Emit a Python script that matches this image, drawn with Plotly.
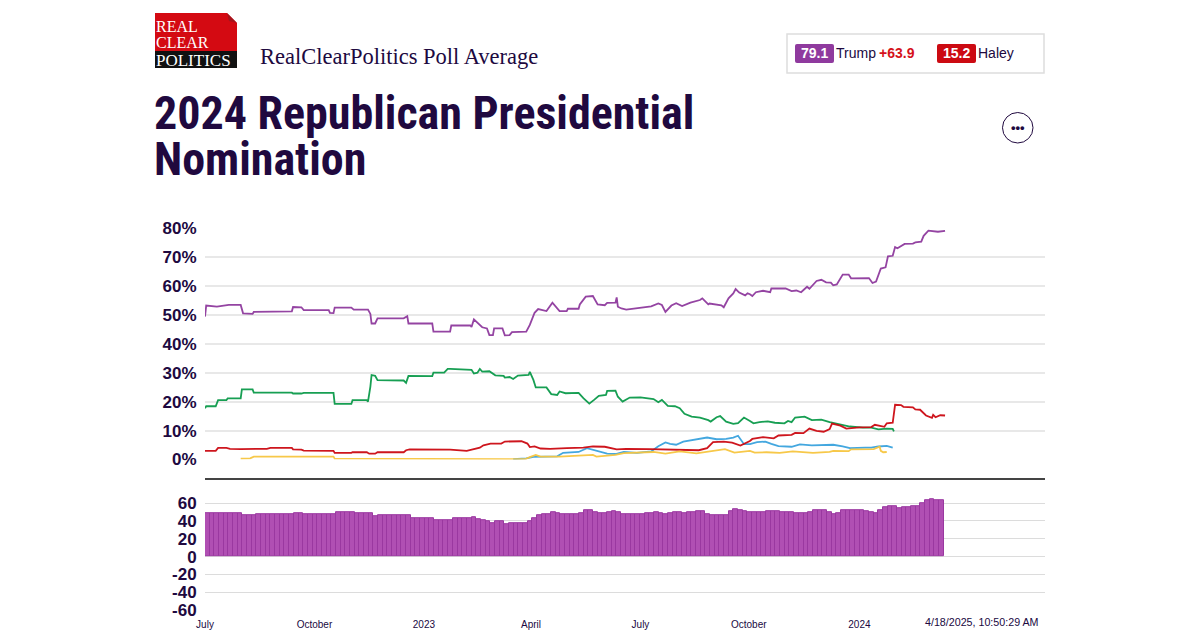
import pandas as pd
import plotly.graph_objects as go
from plotly.subplots import make_subplots

START = pd.Timestamp("2022-07-01")
INK = "#20093f"

# days since START, percent
trump_days = [0, 1, 10, 20, 30, 32, 40, 41, 73, 74, 81, 83, 104, 105, 108, 109, 123, 125, 137, 139, 140, 143, 145, 167, 170, 171, 191, 192,
              206, 207, 223, 224, 226, 230, 233, 237, 239, 242, 243, 250, 252, 256, 258, 270, 273, 277, 280, 287, 292, 298, 304, 305, 314, 315, 320, 326, 330, 336, 338, 345, 346, 347, 350, 354, 370, 375, 381, 384, 387, 392, 396, 401, 408, 416, 418, 423, 424, 434, 436, 440, 444, 446, 449, 454, 456,
              458, 460, 463, 469, 475, 476, 488, 493, 497, 501, 506, 508, 514, 518, 522, 526, 528, 531, 536, 541, 543, 558, 561, 564, 568, 572, 574, 578, 580, 582, 587, 588, 595, 597, 602, 604, 608, 613, 616, 622]
trump_vals = [49.4, 53.2, 52.8, 53.4, 53.4, 50.5, 50.3, 51, 51.2, 52.7, 52.6, 51.6, 51.6, 50.7, 50.6, 52.5, 52.5, 51.8, 51.8, 50.3, 47, 47, 48.8, 48.8, 49.5, 47, 47, 44.2,
              44.2, 46.3, 46.3, 45.8, 48.4, 46.7, 45.7, 45.3, 43, 43, 45.3, 45.3, 42.9, 43, 44, 44.2, 46.5, 50.7, 52, 51.3, 54.2, 51.3, 51.3, 52.1, 52.1, 53.6, 56.3, 56.5, 53.6, 53.3, 54.1, 54.2, 56, 52.8, 52.2, 51.8, 52.8, 52.9, 53.9, 53.4, 51, 53.2, 54, 53, 54.2, 55.1, 55.7, 53.6, 53.9, 53.3, 52.6, 55.7, 57.4, 58.9, 57.7, 56.7, 57.4,
              57.1, 56.5, 57.8, 58.3, 57.8, 59.1, 59.1, 58.2, 58.4, 57.8, 59.7, 59, 61.7, 62.1, 61.2, 61.1, 60.2, 60.5, 63.9, 63.9, 62.6, 62.7, 61, 61.5, 66, 66.4, 70.2, 70.4, 73.4, 73, 74.1, 74.5, 74.6, 75, 75.3, 77.3, 79.1, 78.8, 78.7, 79]

desantis_days = [0, 1, 9, 11, 18, 19, 30, 31, 40, 41, 73, 74, 81, 83, 108, 109, 123, 124, 136, 137, 139, 140, 143, 145, 167, 169, 171, 191, 192, 201, 204,
                 206, 224, 226, 229, 231, 233, 239, 244, 251, 252, 256, 259, 263, 272, 273, 276, 278, 287, 291, 296, 298, 303, 314, 318, 323, 327, 331, 337, 338, 345, 347, 351, 357, 366, 377, 381, 384, 389, 395, 399, 403, 409, 416, 423, 425, 430, 433, 438, 444, 448, 453,
                 458, 461, 466, 473, 479, 487, 490, 493, 496, 504, 510, 518, 525, 536, 542, 553, 560, 566, 573, 578, 579]
desantis_vals = [17.7, 18.4, 18.4, 20.5, 20.5, 21.1, 21.1, 24.2, 24.2, 23.1, 23.1, 22.8, 22.8, 23, 23, 19.2, 19.2, 20.5, 20.5, 20, 25.2, 29.2, 28.9, 27.4, 27.3, 26.5, 28.9, 28.8, 30, 30, 31.3,
                 31.3, 31, 29.7, 30, 31.3, 30.4, 30.5, 29.1, 28.9, 28.3, 28.5, 27.8, 29, 29.2, 30.3, 27.5, 24.9, 24.9, 22.6, 22.3, 23.5, 22.9, 23, 21.2, 19.3, 20.6, 22, 22.3, 23.7, 23.8, 21.7, 20, 21.4, 21.5, 20.9, 19.8, 20.6, 18.5, 18.4, 17.7, 15.8, 14.8, 14.5, 13.6, 13.1, 14.6, 15, 13.1, 12.3, 12.6, 14.5,
                 13.3, 12.5, 12.9, 13.2, 12.7, 12.5, 13.3, 12.9, 14.5, 14.8, 13.6, 13.8, 12.9, 12, 11.4, 11, 11, 10.4, 10.7, 10.6, 9.7]

haley_days = [0, 9, 11, 18, 21, 30, 52, 55, 73, 74, 81, 83, 108, 109, 123, 124, 136, 138, 143, 145, 167, 169, 172,
              206, 220, 226, 231, 234, 240, 249, 252, 266, 271, 273, 277, 282, 290, 304, 318, 326, 336, 346, 354, 374, 388, 415, 422, 427, 436, 443, 450,
              458, 460, 465, 469, 478, 482, 493, 496, 503, 508, 514, 520, 525, 527, 534, 539, 550, 560, 563, 571, 573, 578, 580, 585, 587, 595, 597, 601, 606, 611, 612, 614, 618, 622]
haley_vals = [3, 3, 4, 4, 3.7, 3.6, 3.7, 4, 4, 3.5, 3.4, 3.1, 3, 2.3, 2.3, 2.5, 2.5, 2, 2, 2.5, 2.5, 3.2, 3.5,
              3.4, 3, 3.5, 4.1, 4.9, 5.5, 5.5, 6.2, 6.3, 5.5, 4.3, 4.5, 3.8, 3.7, 3.9, 4.1, 4.5, 4.4, 3.5, 3.7, 3.6, 3.5, 3.2, 3.9, 6, 6.2, 5.8, 4.8,
              6.4, 7.1, 7.3, 7.7, 7.3, 8.3, 8.5, 9.2, 9.1, 10.7, 9.9, 9.6, 10.5, 12.4, 11.7, 10.7, 11.1, 11.2, 12, 11.3, 12.5, 12.7, 18.9, 18.8, 18.2, 18, 17.3, 17.2, 15.2, 14.4, 15.4, 14.6, 15.3, 15.2]

ramaswamy_days = [259, 270, 276, 296, 301, 314, 321, 329, 338, 345, 352, 363, 375, 381, 387, 391, 396, 402, 410, 422, 430, 438, 444, 448, 453,
                  458, 464, 471, 476, 482, 493, 500, 510, 522, 528, 536, 542, 555, 560, 566, 573, 578]
ramaswamy_vals = [0.1, 0.4, 0.9, 1.1, 2.3, 2.6, 3.9, 3, 2, 1.9, 2.6, 2.3, 2.8, 4.6, 5.9, 5.4, 5.1, 6.2, 6.7, 7.6, 7, 7.1, 7.6, 8.2, 5.3,
                  5.3, 6, 6.2, 5.4, 4.6, 4.4, 5.2, 4.9, 4.9, 5.1, 4.5, 3.9, 4.1, 4.1, 4.5, 4.7, 4.1]

pence_days = [30, 38, 41, 108, 109, 206, 256, 269, 273, 278, 282, 298, 318, 326, 329, 338, 345, 352, 363, 377, 387, 399, 413, 427, 437, 445, 452,
              458, 462, 472, 483, 494, 511, 525, 528, 541, 543, 562, 567, 568, 570, 573]
pence_vals = [0.3, 0.4, 1, 1, 0.3, 0.3, 0.2, 0.1, 0.8, 1.6, 1, 1, 1.4, 1.6, 1, 1.4, 1.6, 2.2, 2.4, 2.6, 2, 2.8, 2.1, 3, 3.6, 2.4, 2.8,
              3, 2.4, 2.5, 2.3, 2.8, 2.3, 2.6, 3, 2.9, 3.5, 3.6, 4.4, 3, 2.5, 2.6]

# Trump lead over the field, one bar every few days
spread_step = 3.93
spread_vals = [49, 49, 49, 48.5, 48.5, 49, 49, 49, 46, 46, 46, 47, 47, 47, 47, 47, 47, 47, 47, 49, 49,
               47.6, 47.6, 47.6, 47.6, 47.6, 47.6, 47.6, 50, 50, 50, 50, 49, 49, 49, 49, 45, 46, 46, 46, 46, 46, 46, 46,
               43, 43, 43, 43, 43, 40.5, 40.5, 40.5, 40.5, 42.7, 42.7, 42.7, 42.7, 44, 42, 40.5, 40, 37.5, 39.4, 39.4, 36.4,
               37, 37, 37, 38, 40, 43, 46.5, 47, 47, 50, 49, 47, 47.5, 47.5, 47.5, 49, 52, 52, 50, 49,
               49, 50, 50.5, 50, 48, 47.6, 47.6, 47.6, 47.8, 48.5, 49, 49.8, 49, 47, 48.5, 49.8, 49.5, 49.2, 50, 50.3, 50.5, 50.5,
               48, 46.8, 46.3, 46, 46.8, 50.8, 52.8, 51.5, 51, 49.5, 50, 50, 50, 50.7, 51.4, 50.5, 50.3, 50, 49.5, 49, 49, 49, 49.5,
               51.5, 52, 52, 49.5, 47.5, 49, 51.5, 52, 51.5, 51.5, 51.5, 51.4, 50, 49, 52.5, 55, 57, 56, 54.3, 55.5, 55.8, 56, 57, 59.5,
               63.5, 64, 63.5, 63.3]

tick_dates = ["2022-07-01", "2022-10-01", "2023-01-01", "2023-04-01", "2023-07-02", "2023-10-01", "2024-01-02"]
tick_labels = ["July", "October", "2023", "April", "July", "October", "2024"]
pct_ticks = [0, 10, 20, 30, 40, 50, 60, 70, 80]
spread_ticks = [-60, -40, -20, 0, 20, 40, 60]

series = [
    ("Trump", trump_days, trump_vals, "#8f3a9e"),
    ("DeSantis", desantis_days, desantis_vals, "#0b9a4a"),
    ("Ramaswamy", ramaswamy_days, ramaswamy_vals, "#3aa3de"),
    ("Haley", haley_days, haley_vals, "#cc0a12"),
    ("Pence", pence_days, pence_vals, "#f7c640"),
]


def to_dates(days):
    return START + pd.to_timedelta(days, unit="D")


def px(x):
    return x / 1200


def py(y):
    return 1 - y / 630


fig = make_subplots(rows=2, cols=1)

for name, days, vals, color in series:
    fig.add_trace(go.Scatter(
        x=to_dates(days), y=vals, name=name, mode="lines",
        line=dict(color=color, width=1.8),
        opacity=0.95,
    ), row=1, col=1)

spread_days = [spread_step * (i + 0.5) for i in range(len(spread_vals))]
fig.add_trace(go.Bar(
    x=to_dates(spread_days), y=spread_vals, name="Spread",
    width=spread_step * 86400000,
    marker=dict(color="#b04fb3", line=dict(color="#9a38a0", width=1)),
), row=2, col=1)

x_range = [START, START + pd.Timedelta(days=706)]
fig.update_xaxes(range=x_range, domain=[px(205), px(1045)], showgrid=False, zeroline=False, showline=False, automargin=False)
fig.update_xaxes(showticklabels=False, row=1, col=1)
fig.update_xaxes(
    tickmode="array", tickvals=tick_dates, ticktext=tick_labels,
    ticks="outside", ticklen=5, tickcolor="rgba(0,0,0,0)",
    tickfont=dict(family="Liberation Sans", size=10, color=INK),
    tickangle=0,
    row=2, col=1,
)
fig.update_yaxes(
    range=[0, 80], domain=[py(459.5), py(228)], automargin=False,
    tickmode="array", tickvals=pct_ticks, ticktext=[f"{v}%" for v in pct_ticks],
    gridcolor="#e8e8e8", gridwidth=1.5, zeroline=False, showline=False,
    ticks="outside", ticklen=4, tickcolor="rgba(0,0,0,0)",
    tickfont=dict(family="Liberation Sans", size=17, color=INK, weight="bold"),
    row=1, col=1,
)
fig.update_yaxes(
    range=[-60, 70], domain=[py(610), py(494.2)], automargin=False,
    tickmode="array", tickvals=spread_ticks,
    ticktext=[str(v) for v in spread_ticks],
    gridcolor="#dcdcdc", gridwidth=1, zeroline=False, showline=False,
    ticks="outside", ticklen=4, tickcolor="rgba(0,0,0,0)",
    tickfont=dict(family="Liberation Sans", size=17, color=INK, weight="bold"),
    row=2, col=1,
)


def box(x0, y0, x1, y1, fill, line="rgba(0,0,0,0)", width=0):
    return dict(type="rect", xref="paper", yref="paper", x0=px(x0), x1=px(x1), y0=py(y1), y1=py(y0),
                fillcolor=fill, line=dict(color=line, width=width), layer="above")


def badge(x0, y0, x1, y1, fill, r=2):
    path = (
        f"M {px(x0 + r)} {py(y0)} L {px(x1 - r)} {py(y0)} Q {px(x1)} {py(y0)} {px(x1)} {py(y0 + r)} "
        f"L {px(x1)} {py(y1 - r)} Q {px(x1)} {py(y1)} {px(x1 - r)} {py(y1)} "
        f"L {px(x0 + r)} {py(y1)} Q {px(x0)} {py(y1)} {px(x0)} {py(y1 - r)} "
        f"L {px(x0)} {py(y0 + r)} Q {px(x0)} {py(y0)} {px(x0 + r)} {py(y0)} Z"
    )
    return dict(type="path", xref="paper", yref="paper", path=path, fillcolor=fill, line=dict(width=0), layer="above")


shapes = [
    # panel divider
    dict(type="line", xref="paper", yref="paper", x0=px(205), x1=px(1045), y0=py(479), y1=py(479),
         line=dict(color="#444444", width=2)),
    # logo
    box(155, 13, 237, 51, "#d40a12"),
    box(155, 51, 237, 68, "#111111"),
    dict(type="path", xref="paper", yref="paper",
         path=f"M {px(227)} {py(13)} L {px(237)} {py(13)} L {px(237)} {py(23)} Z",
         fillcolor="#ffffff", line=dict(width=0)),
    dict(type="path", xref="paper", yref="paper",
         path=f"M {px(227)} {py(13)} L {px(237)} {py(23)} L {px(229)} {py(21)} Z",
         fillcolor="#a5141c", line=dict(width=0)),
    # poll average box
    box(787, 34, 1044, 73, "#ffffff", "#dddddd", 1.5),
    badge(795, 44, 834, 63, "#8f3a9e"),
    badge(937, 44, 976, 63, "#cc0a12"),
    # menu button
    dict(type="circle", xref="paper", yref="paper", x0=px(1002.5), x1=px(1033), y0=py(143), y1=py(112.5),
         line=dict(color=INK, width=1), fillcolor="#ffffff"),
]

sans = "Liberation Sans"
head = "Roboto Condensed, Liberation Sans"
texts = [
    (154, 113, "2024 Republican Presidential", head, 46, INK, "bold", "left"),
    (154, 159, "Nomination", head, 46, INK, "bold", "left"),
    (260, 56, "RealClearPolitics Poll Average", "Liberation Serif", 22.5, INK, "normal", "left"),
    (156, 26.5, "REAL", "Liberation Serif", 16, "#ffffff", "normal", "left"),
    (156, 43, "CLEAR", "Liberation Serif", 16, "#ffffff", "normal", "left"),
    (156, 60, "POLITICS", "Liberation Serif", 17, "#ffffff", "normal", "left"),
    (814.5, 53, "79.1", sans, 14, "#ffffff", "bold", "center"),
    (836, 52.5, "Trump", sans, 14, INK, "normal", "left"),
    (879, 52.5, "+63.9", sans, 14, "#d5121a", "bold", "left"),
    (956.5, 53, "15.2", sans, 14, "#ffffff", "bold", "center"),
    (978, 52.5, "Haley", sans, 14, INK, "normal", "left"),
    (1018, 127.5, "•••", sans, 13, INK, "bold", "center"),
    (1039, 622, "4/18/2025, 10:50:29 AM", sans, 10.7, INK, "normal", "right"),
]
annotations = [
    dict(xref="paper", yref="paper", x=px(x), y=py(y), text=t, showarrow=False, xanchor=anchor, yanchor="middle",
         font=dict(family=fam, size=size, color=color, weight=weight), borderpad=0, borderwidth=0)
    for x, y, t, fam, size, color, weight, anchor in texts
]

fig.update_layout(
    width=1200, height=630,
    margin=dict(l=0, r=0, t=0, b=0),
    paper_bgcolor="#ffffff", plot_bgcolor="#ffffff",
    showlegend=False,
    bargap=0,
    shapes=shapes,
    annotations=annotations,
)

fig.write_html(
    "out.html",
    config={"displayModeBar": False},
    post_script="document.body.style.margin='0';",
)
